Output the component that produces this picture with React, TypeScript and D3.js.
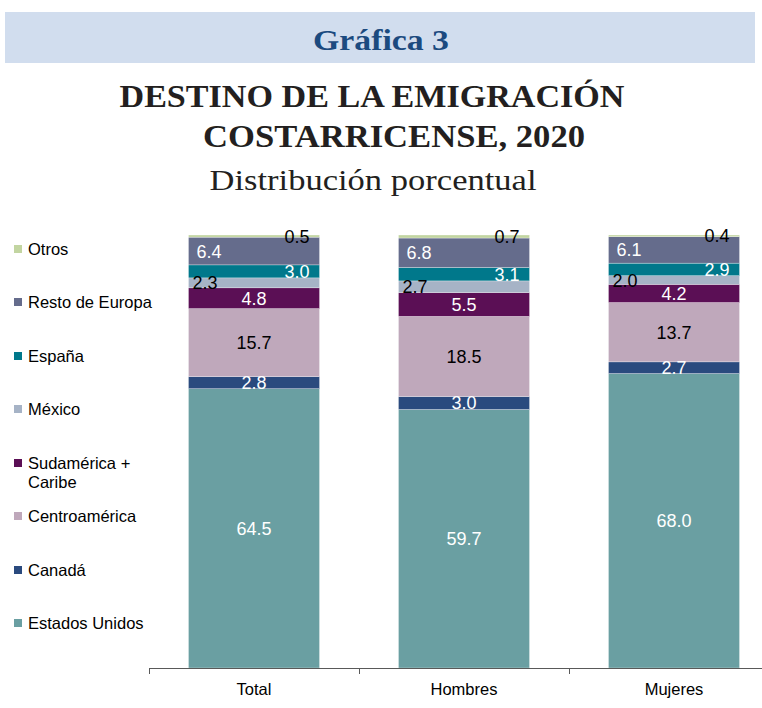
import React from "react";
import * as d3 from "d3";

const categories = ["Total", "Hombres", "Mujeres"];
const seriesNames = [
  "Estados Unidos",
  "Canadá",
  "Centroamérica",
  "Sudamérica + Caribe",
  "México",
  "España",
  "Resto de Europa",
  "Otros",
];
const estadosUnidos = [64.5, 59.7, 68.0];
const canada = [2.8, 3.0, 2.7];
const centroamerica = [15.7, 18.5, 13.7];
const sudamerica = [4.8, 5.5, 4.2];
const mexico = [2.3, 2.7, 2.0];
const espana = [3.0, 3.1, 2.9];
const restoEuropa = [6.4, 6.8, 6.1];
const otros = [0.5, 0.7, 0.4];

const seriesValues = [estadosUnidos, canada, centroamerica, sudamerica, mexico, espana, restoEuropa, otros];

const colors = ["#6a9fa2", "#2a4a7e", "#bfa8bb", "#5b0f55", "#a6b3c6", "#00788b", "#656c8c", "#c2d5a1"];
const labelColors = ["#fff", "#fff", "#000", "#fff", "#000", "#fff", "#fff", "#000"];
const labelShift = [0, 0, 0, 0, -49, 43, -45, 43];

const legendY = [623, 570, 516, 463, 409, 356, 302, 249];

export default function App() {
  const W = 762;
  const H = 708;
  const x = d3.scaleBand<string>().domain(categories).range([149, 779]).paddingInner(0.376).paddingOuter(0.188);
  const y = d3.scaleLinear().domain([0, 100]).range([668, 235]);

  const table = categories.map((c, i) => {
    const row: any = { cat: c };
    seriesNames.forEach((s, j) => (row[s] = seriesValues[j][i]));
    return row;
  });
  const stacked = d3.stack<any>().keys(seriesNames)(table);

  const serif = "'Liberation Serif', 'Times New Roman', serif";
  const sans = "'Liberation Sans', Arial, sans-serif";

  return (
    <svg width={W} height={H} style={{ position: "absolute", left: 0, top: 0 }} xmlns="http://www.w3.org/2000/svg">
      <rect x={0} y={0} width={W} height={H} fill="#fff" />
      <rect x={5} y={12} width={750} height={51} fill="#d1ddee" />
      <text x={381} y={50} textAnchor="middle" fontFamily={serif} fontWeight="bold" fontSize={30} fill="#1b4a7f" textLength={136} lengthAdjust="spacingAndGlyphs">
        Gráfica 3
      </text>
      <text x={372} y={107} textAnchor="middle" fontFamily={serif} fontWeight="bold" fontSize={31} fill="#231f20" textLength={505} lengthAdjust="spacingAndGlyphs">
        DESTINO DE LA EMIGRACIÓN
      </text>
      <text x={394} y={147} textAnchor="middle" fontFamily={serif} fontWeight="bold" fontSize={31} fill="#231f20" textLength={382} lengthAdjust="spacingAndGlyphs">
        COSTARRICENSE, 2020
      </text>
      <text x={373} y={190} textAnchor="middle" fontFamily={serif} fontSize={29} fill="#231f20" textLength={327} lengthAdjust="spacingAndGlyphs">
        Distribución porcentual
      </text>

      {stacked.map((layer, j) => (
        <g key={layer.key}>
          {layer.map((d, i) => (
            <rect
              key={i}
              x={x(categories[i])}
              y={y(d[1])}
              width={x.bandwidth()}
              height={y(d[0]) - y(d[1])}
              fill={colors[j]}
              stroke="#ffffff"
              strokeWidth={0.5}
              strokeOpacity={0.6}
            />
          ))}
        </g>
      ))}

      {stacked.map((layer, j) => (
        <g key={"l" + layer.key}>
          {layer.map((d, i) => (
            <text
              key={i}
              x={(x(categories[i]) as number) + x.bandwidth() / 2 + labelShift[j]}
              y={(y(d[0]) + y(d[1])) / 2}
              dy="0.36em"
              textAnchor="middle"
              fontFamily={sans}
              fontSize={18}
              fill={labelColors[j]}
            >
              {seriesValues[j][i].toFixed(1)}
            </text>
          ))}
        </g>
      ))}

      <line x1={149} x2={W} y1={668.5} y2={668.5} stroke="#595959" strokeWidth={1} />
      {categories.map((c, i) => {
        const bx = (x(c) as number) - (x.step() - x.bandwidth()) / 2;
        return <line key={c} x1={bx + 0.5} x2={bx + 0.5} y1={668} y2={674} stroke="#595959" strokeWidth={1} />;
      })}
      {categories.map((c) => (
        <text key={c} x={(x(c) as number) + x.bandwidth() / 2} y={695} textAnchor="middle" fontFamily={sans} fontSize={16.5} fill="#000">
          {c}
        </text>
      ))}

      {seriesNames.map((s, j) => (
        <g key={s}>
          <rect x={14} y={legendY[j] - 4} width={8} height={8} fill={colors[j]} />
          {s === "Sudamérica + Caribe" ? (
            <text x={28} y={legendY[j]} dy="0.36em" fontFamily={sans} fontSize={16.5} fill="#000">
              <tspan x={28}>Sudamérica +</tspan>
              <tspan x={28} dy={19}>Caribe</tspan>
            </text>
          ) : (
            <text x={28} y={legendY[j]} dy="0.36em" fontFamily={sans} fontSize={16.5} fill="#000">
              {s}
            </text>
          )}
        </g>
      ))}
    </svg>
  );
}
